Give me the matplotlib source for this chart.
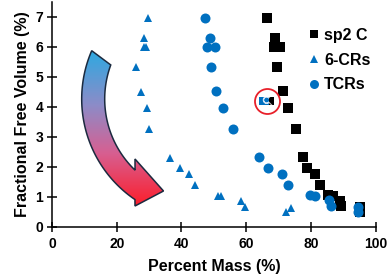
import numpy as np
import matplotlib
matplotlib.use("Agg")
import matplotlib.pyplot as plt
from matplotlib.patches import Polygon, Rectangle
from matplotlib.colors import LinearSegmentedColormap

plt.rcParams['font.family'] = ['Liberation Sans', 'DejaVu Sans']
plt.rcParams['font.weight'] = 'bold'
plt.rcParams['hatch.linewidth'] = 0.8

# ---- data ----
sp2_x = [66.3, 68.8, 68.5, 70.4, 69.5, 71.4, 72.9, 75.3, 77.6, 78.8, 81.2, 82.7,
         85.3, 86.7, 88.9, 89.2, 95.0, 95.0]
sp2_y = [6.96, 6.27, 5.99, 5.99, 5.31, 4.52, 3.96, 3.24, 2.31, 1.96, 1.75, 1.38,
         1.05, 1.02, 0.86, 0.68, 0.65, 0.50]
cr6_x = [29.7, 28.5, 28.4, 29.1, 26.1, 27.4, 29.4, 30.0, 36.4, 39.5, 42.4, 44.1,
         51.3, 52.3, 58.5, 59.6, 72.2, 73.7]
cr6_y = [6.94, 6.27, 6.00, 6.00, 5.31, 4.49, 3.96, 3.24, 2.29, 1.96, 1.75, 1.38,
         1.02, 1.02, 0.86, 0.66, 0.49, 0.61]
tcr_x = [47.2, 48.8, 47.9, 50.5, 49.2, 50.8, 52.9, 56.0, 64.0, 66.6, 70.9, 72.9,
         79.6, 81.2, 85.6, 86.3, 94.5, 94.6]
tcr_y = [6.96, 6.27, 5.99, 5.99, 5.31, 4.52, 3.96, 3.24, 2.31, 1.96, 1.75, 1.38,
         1.04, 1.02, 0.88, 0.68, 0.65, 0.50]
highlight_x = 66.3
highlight_y = 4.18
series_labels = ['sp2 C', '6-CRs', 'TCRs']
x_ticks = [0, 20, 40, 60, 80, 100]
y_ticks = [0, 1, 2, 3, 4, 5, 6, 7]

BLUE = '#0070C0'
W, H = 390, 274

fig = plt.figure(figsize=(3.9, 2.74), dpi=100)
ax = fig.add_axes([52 / W, 1 - 226.5 / H, (375.7 - 52) / W, 225 / H])

ax.plot(sp2_x, sp2_y, ls='none', marker='s', ms=6.6, color='black', mew=0,
        label=series_labels[0], zorder=3)
ax.plot(cr6_x, cr6_y, ls='none', marker='^', ms=6.4, color=BLUE, mew=0,
        label=series_labels[1], zorder=3)
ax.plot(tcr_x, tcr_y, ls='none', marker='o', ms=7.2, color=BLUE, mew=0,
        label=series_labels[2], zorder=4)

# highlighted point: patterned marker with red ring
rw, rh = 4.4, 0.29
ax.add_patch(Rectangle((highlight_x - rw / 2, highlight_y - rh / 2), rw * 0.65, rh,
                       facecolor=BLUE, edgecolor='#cfe3f5', hatch='o', lw=0, zorder=5))
ax.add_patch(Rectangle((highlight_x - rw / 2 + rw * 0.65, highlight_y - rh / 2), rw * 0.35, rh,
                       facecolor='black', edgecolor='#bbbbbb', hatch='x', lw=0, zorder=5))
ax.plot([highlight_x], [highlight_y], ls='none', marker='o', ms=18, mfc='none',
        mec='#E8202A', mew=1.3, zorder=6)

# curved gradient arrow (decoration, reference-pixel geometry)
cx, cy, Ro, Ri = 203.3, 99.0, 121.6, 98.6
def arc(R, a0, a1, n=60):
    t = np.radians(np.linspace(a0, a1, n))
    return np.column_stack([cx + R * np.cos(t), cy - R * np.sin(t)])
outer = arc(Ro, 156.6, 235.8)
inner = arc(Ri, 226.2, 159.8)
head = np.array([[135, 206], [163.5, 191], [135, 159]])
pts = np.vstack([outer, head, inner])
fig_pts = np.column_stack([pts[:, 0] / W, 1 - pts[:, 1] / H])
poly = Polygon(fig_pts, closed=True, transform=fig.transFigure, facecolor='none',
               edgecolor='#1B2A3F', lw=1.1, zorder=7)
ax.add_patch(poly)
cmap = LinearSegmentedColormap.from_list('g', [
    (0.0, (41 / 255, 170 / 255, 226 / 255)),
    (0.35, (140 / 255, 140 / 255, 200 / 255)),
    (0.65, (215 / 255, 95 / 255, 145 / 255)),
    (1.0, (255 / 255, 25 / 255, 35 / 255))])
grad = np.linspace(0, 1, 256).reshape(-1, 1)
im = ax.imshow(grad, cmap=cmap, aspect='auto', origin='upper',
               extent=[75 / W, 170 / W, 1 - 210 / H, 1 - 48 / H],
               transform=fig.transFigure, zorder=6.5)
im.set_clip_path(poly)

ax.set_xlim(0, 100)
ax.set_ylim(0, 7.5)
ax.set_xticks(x_ticks)
ax.set_yticks(y_ticks)
for s in ['top', 'right']:
    ax.spines[s].set_visible(False)
for s in ['left', 'bottom']:
    ax.spines[s].set_linewidth(1.1)
ax.tick_params(direction='inout', length=6.5, width=1.1, labelsize=10)
ax.tick_params(axis='x', pad=4)
ax.tick_params(axis='y', pad=3)
for lab in ax.get_xticklabels() + ax.get_yticklabels():
    lab.set_fontweight('bold')
ax.set_xlabel('Percent Mass (%)', fontsize=11.5, fontweight='bold', labelpad=6)
ax.set_ylabel('Fractional Free Volume (%)', fontsize=11.5, fontweight='bold', labelpad=4)

leg = ax.legend(loc='upper left', bbox_to_anchor=(300 / W, 1 - 20 / H),
                bbox_transform=fig.transFigure, frameon=False,
                prop={'size': 11.5, 'weight': 'bold'}, handlelength=0.8,
                handletextpad=0.2, labelspacing=0.6, borderpad=0, markerscale=0.9)

fig.savefig('out.png', dpi=100)
